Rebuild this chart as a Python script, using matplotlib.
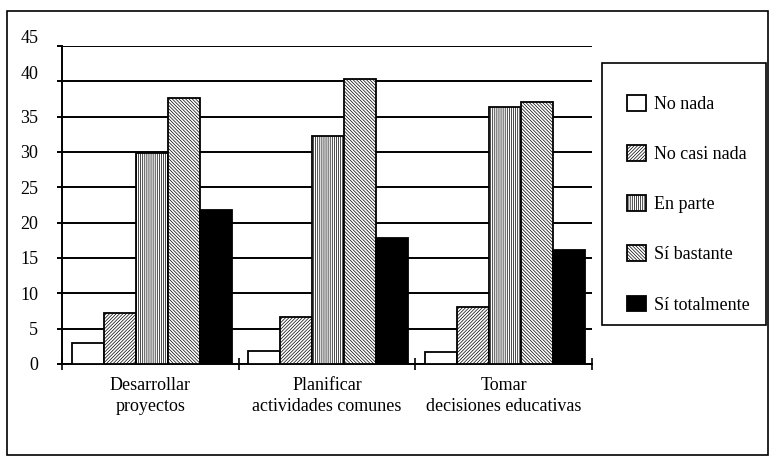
import matplotlib
matplotlib.use("Agg")
import matplotlib.pyplot as plt
import numpy as np
from matplotlib.patches import Rectangle
from matplotlib.transforms import ScaledTranslation

categories = ["Desarrollar\nproyectos", "Planificar\nactividades comunes", "Tomar\ndecisiones educativas"]
series_names = ["No nada", "No casi nada", "En parte", "Sí bastante", "Sí totalmente"]
no_nada = [3.0, 1.9, 1.7]
no_casi_nada = [7.2, 6.6, 8.0]
en_parte = [29.8, 32.3, 36.3]
si_bastante = [37.7, 40.3, 37.1]
si_totalmente = [21.8, 17.8, 16.1]
yticks = [0, 5, 10, 15, 20, 25, 30, 35, 40, 45]

series = [no_nada, no_casi_nada, en_parte, si_bastante, si_totalmente]
faces = ["white", "white", "white", "white", "black"]
hatches = [None, "//////////", "||||||||", "\\\\\\\\\\\\\\\\\\\\", None]

plt.rcParams["font.family"] = ["Liberation Serif", "DejaVu Serif"]
plt.rcParams["hatch.linewidth"] = 0.5

W, H = 770, 457
fig = plt.figure(figsize=(W/100, H/100), dpi=100)
fig.patches.append(Rectangle((7/W, 2/H), 761/W, (H-11-2)/H, transform=fig.transFigure,
                             fill=False, edgecolor="black", linewidth=1.2))

ax = fig.add_axes([62/W, 1-364/H, 530/W, 318/H])
x = np.arange(len(categories))
w = 0.181
for i, (vals, fc, h) in enumerate(zip(series, faces, hatches)):
    ax.bar(x + 0.008 + (i - 2) * w, vals, width=w, facecolor=fc, edgecolor="black",
           hatch=h, linewidth=1.3, label=series_names[i], zorder=3)

ax.set_xlim(-0.5, len(categories) - 0.5)
ax.set_ylim(0, 45)
ax.set_yticks(yticks)
ax.set_yticklabels([str(t) for t in yticks], fontsize=13)
ax.yaxis.grid(True, color="black", linewidth=1.4, zorder=0)
ax.set_axisbelow(True)
for s in ["top", "right"]:
    ax.spines[s].set_visible(False)
ax.spines["left"].set_linewidth(1.4)
ax.spines["bottom"].set_linewidth(1.4)
ax.tick_params(axis="y", direction="out", length=3.6, width=1.4, pad=13.5)
for lab in ax.get_yticklabels():
    if lab.get_text() in ("40", "45"):
        lab.set_transform(lab.get_transform() + ScaledTranslation(0, 0.09, fig.dpi_scale_trans))
ax.set_xticks(x)
ax.set_xticklabels(categories, fontsize=13, linespacing=1.38)
ax.tick_params(axis="x", which="major", length=0, pad=9)
ax.set_xticks(np.arange(-0.5, len(categories)), minor=True)
ax.tick_params(axis="x", which="minor", direction="inout", length=9, width=1.2)

# legend frame
fig.patches.append(Rectangle((602/W, 1-325/H), 164/W, 262/H, transform=fig.transFigure,
                             fill=False, edgecolor="black", linewidth=1.2))
handles, labels = ax.get_legend_handles_labels()
leg = fig.legend(handles, labels, loc="upper left", bbox_to_anchor=(627/W, 1-95/H),
                 frameon=False, fontsize=13, handlelength=1.05, handleheight=0.95,
                 labelspacing=1.78, borderpad=0, handletextpad=0.45, borderaxespad=0)

fig.savefig("out.png", dpi=100)
